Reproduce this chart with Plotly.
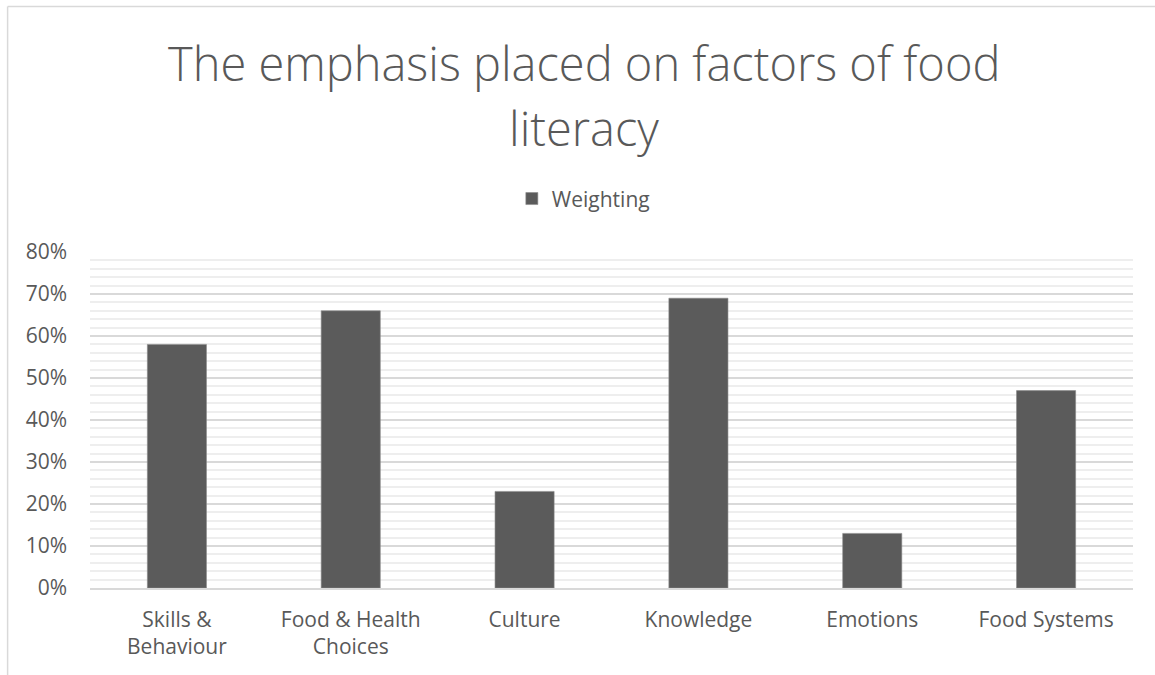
import plotly.graph_objects as go

categories = ["Skills & Behaviour", "Food & Health Choices", "Culture",
              "Knowledge", "Emotions", "Food Systems"]
tick_labels = ["Skills &<br>Behaviour", "Food & Health<br>Choices", "Culture",
               "Knowledge", "Emotions", "Food Systems"]
weighting = [0.58, 0.66, 0.23, 0.69, 0.13, 0.47]
title_lines = ["The emphasis placed on factors of food", "literacy"]

TEXT = "#595959"
BAR = "#5b5b5b"

fig = go.Figure(
    go.Bar(
        x=categories,
        y=weighting,
        name="Weighting",
        marker=dict(color=BAR, line=dict(color="#8a8a8a", width=0.6)),
        showlegend=True,
    )
)

# two-line chart title, each line placed on its own
title_annotations = [
    dict(
        text=line,
        xref="paper", yref="paper",
        x=0.4736, y=y,
        xanchor="center", yanchor="middle",
        showarrow=False,
        font=dict(family="Open Sans", size=47, color=TEXT, weight=300),
    )
    for line, y in zip(title_lines, [1.562, 1.369])
]

fig.update_layout(
    width=1155,
    height=675,
    paper_bgcolor="white",
    plot_bgcolor="white",
    margin=dict(l=90, r=22, t=252, b=87),
    bargap=0.66,
    font=dict(family="Open Sans", color=TEXT, size=21),
    annotations=title_annotations,
    legend=dict(
        orientation="h",
        x=0.473,
        xanchor="center",
        y=1.158,
        yanchor="middle",
        font=dict(size=21, color=TEXT),
        itemwidth=30,
    ),
    shapes=[
        dict(type="line", xref="paper", yref="paper", x0=-0.079, x1=1.05,
             y0=1.731, y1=1.731, line=dict(color="#d9d9d9", width=1.5)),
        dict(type="line", xref="paper", yref="paper", x0=-0.079, x1=-0.079,
             y0=1.731, y1=-0.3, line=dict(color="#d9d9d9", width=1.5)),
    ],
)

fig.update_xaxes(
    tickmode="array",
    tickvals=categories,
    ticktext=tick_labels,
    showline=True,
    linecolor="#d9d9d9",
    linewidth=1.5,
    ticks="",
    ticklabelstandoff=12,
    tickfont=dict(size=21, color=TEXT),
)

fig.update_yaxes(
    range=[0, 0.8],
    dtick=0.1,
    tickformat=".0%",
    showgrid=True,
    gridcolor="#d9d9d9",
    gridwidth=1.5,
    zeroline=False,
    ticks="",
    ticklabelstandoff=22,
    tickfont=dict(size=21, color=TEXT),
    minor=dict(dtick=0.02, showgrid=True, gridcolor="#eeeeee", gridwidth=1.5),
)

fig.write_html("out.html")
